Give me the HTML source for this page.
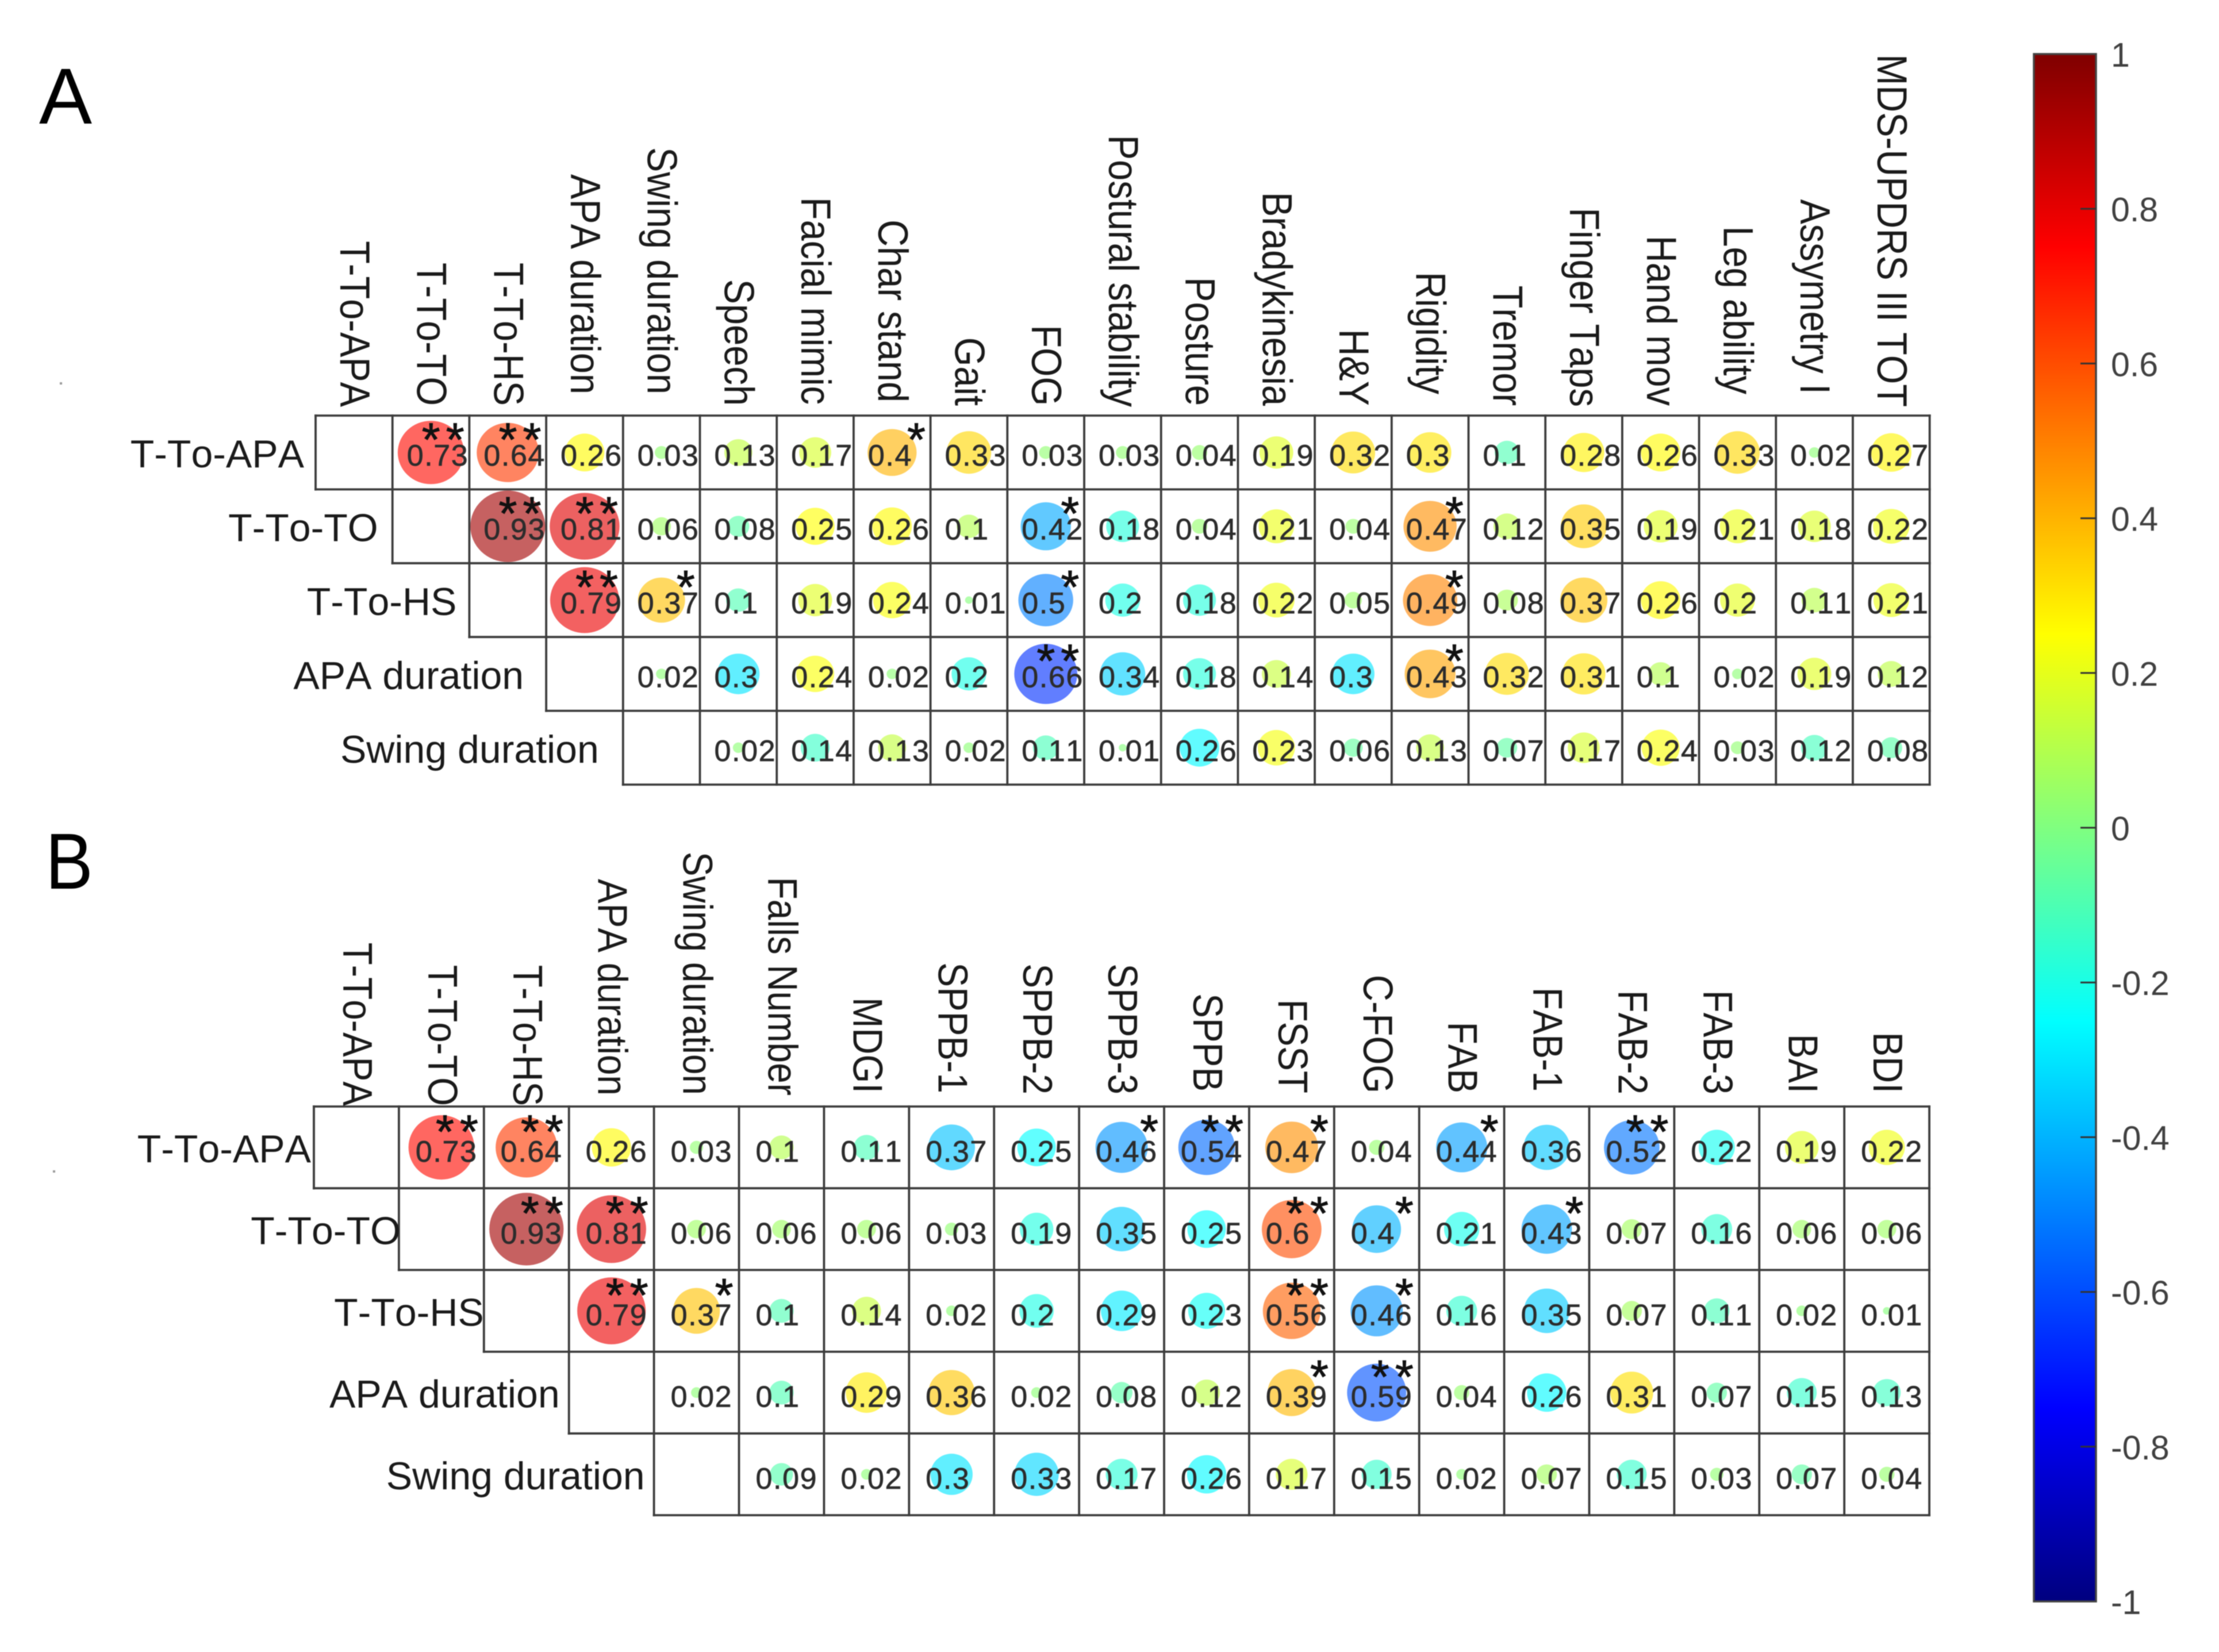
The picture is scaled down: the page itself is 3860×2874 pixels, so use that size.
<!DOCTYPE html>
<html lang="en">
<head>
<meta charset="utf-8">
<title>Correlation matrices</title>
<style>
html,body{margin:0;padding:0;background:#fff;}
svg{display:block;font-family:"Liberation Sans",Arial,sans-serif;font-kerning:none;filter:blur(0.9px);}
</style>
</head>
<body>
<svg id="chart" xmlns="http://www.w3.org/2000/svg" width="3860" height="2874" viewBox="0 0 3860 2874">
<defs>
<linearGradient id="jet-gradient" x1="0" y1="1" x2="0" y2="0">
<stop offset="0" stop-color="#00007f"/>
<stop offset="0.125" stop-color="#0000ff"/>
<stop offset="0.375" stop-color="#00ffff"/>
<stop offset="0.625" stop-color="#ffff00"/>
<stop offset="0.875" stop-color="#ff0000"/>
<stop offset="1" stop-color="#7f0000"/>
</linearGradient>
</defs>
<rect x="0" y="0" width="3860" height="2874" fill="#ffffff"/>
<text x="68" y="215" font-size="138" fill="#000">A</text>
<text transform="translate(79,1546) scale(0.9,1)" font-size="138" fill="#000">B</text>
<rect x="104" y="665" width="4" height="4" fill="#999"/>
<rect x="92" y="2036" width="4" height="4" fill="#999"/>
<g id="panels"></g>
<g id="colorbar"></g>
</svg>
<script>
// ---------- Panel A data ----------
const columnsA = ["T-To-APA","T-To-TO","T-To-HS","APA duration","Swing duration","Speech","Facial mimic","Char stand","Gait","FOG","Postural stability","Posture","Bradykinesia","H&Y","Rigidity","Tremor","Finger Taps","Hand mov","Leg ability","Assymetry I","MDS-UPDRS III TOT"];
const rowNames = ["T-To-APA","T-To-TO","T-To-HS","APA duration","Swing duration"];
const valuesA0 = [.73,.64,.26,.03,.13,.17,.4,.33,.03,.03,.04,.19,.32,.3,-.1,.28,.26,.33,.02,.27];
const valuesA1 = [.93,.81,.06,-.08,.25,.26,.1,-.42,-.18,.04,.21,.04,.47,.12,.35,.19,.21,.18,.22];
const valuesA2 = [.79,.37,-.1,.19,.24,.01,-.5,-.2,-.18,.22,.05,.49,.08,.37,.26,.2,.11,.21];
const valuesA3 = [.02,-.3,.24,.02,-.2,-.66,-.34,-.18,.14,-.3,.43,.32,.31,.1,.02,.19,.12];
const valuesA4 = [.02,-.14,.13,.02,-.11,.01,-.26,.23,-.06,.13,-.07,.17,.24,.03,-.12,-.08];
const starsA0 = [2,2,0,0,0,0,1,0,0,0,0,0,0,0,0,0,0,0,0,0];
const starsA1 = [2,2,0,0,0,0,0,1,0,0,0,0,1,0,0,0,0,0,0];
const starsA2 = [2,1,0,0,0,0,1,0,0,0,0,1,0,0,0,0,0,0];
const starsA3 = [0,0,0,0,0,2,0,0,0,0,1,0,0,0,0,0,0];
const starsA4 = [0,0,0,0,0,0,0,0,0,0,0,0,0,0,0,0];

// ---------- Panel B data ----------
const columnsB = ["T-To-APA","T-To-TO","T-To-HS","APA duration","Swing duration","Falls Number","MDGI","SPPB-1","SPPB-2","SPPB-3","SPPB","FSST","C-FOG","FAB","FAB-1","FAB-2","FAB-3","BAI","BDI"];
const valuesB0 = [.73,.64,.26,.03,.1,-.11,-.37,-.25,-.46,-.54,.47,.04,-.44,-.36,-.52,-.22,.19,.22];
const valuesB1 = [.93,.81,.06,.06,.06,.03,-.19,-.35,-.25,.6,-.4,-.21,-.43,.07,-.16,.06,.06];
const valuesB2 = [.79,.37,-.1,.14,.02,-.2,-.29,-.23,.56,-.46,-.16,-.35,.07,-.11,.02,.01];
const valuesB3 = [.02,-.1,.29,.36,.02,-.08,.12,.39,-.59,.04,-.26,.31,-.07,-.15,-.13];
const valuesB4 = [-.09,.02,-.3,-.33,-.17,-.26,.17,-.15,.02,.07,-.15,.03,-.07,.04];
const starsB0 = [2,2,0,0,0,0,0,0,1,2,1,0,1,0,2,0,0,0];
const starsB1 = [2,2,0,0,0,0,0,0,0,2,1,0,1,0,0,0,0];
const starsB2 = [2,1,0,0,0,0,0,0,2,1,0,0,0,0,0,0];
const starsB3 = [0,0,0,0,0,0,0,1,2,0,0,0,0,0,0];
const starsB4 = [0,0,0,0,0,0,0,0,0,0,0,0,0,0];

// ---------- Colorbar ticks ----------
const colorbarTicks = [1,0.8,0.6,0.4,0.2,0,-0.2,-0.4,-0.6,-0.8,-1];

const NS = "http://www.w3.org/2000/svg";
function make(tag, attrs, parent, text){
  const n = document.createElementNS(NS, tag);
  for (const k in attrs) n.setAttribute(k, attrs[k]);
  if (text !== undefined) n.textContent = text;
  parent.appendChild(n);
  return n;
}
function jet(v){
  const t = (v + 1) / 2;
  const ch = c => Math.round(255 * Math.max(0, Math.min(1, 1.5 - Math.abs(4 * t - c))));
  return "rgb(" + ch(3) + "," + ch(2) + "," + ch(1) + ")";
}
function slug(s){ return s.toLowerCase().replace(/[^a-z0-9]+/g, "-"); }

const root = document.getElementById("panels");

function drawPanel(p){
  const g = make("g", {}, root);
  
  
  const nC = p.columns.length, nR = p.rows.length;
  const xAt = c => p.x0 + p.colW * c;
  const yAt = r => p.y0 + p.rowH * r;

  // grid
  for (let k = 0; k <= nC; k++){
    const rEnd = Math.min(k + 1, nR);
    const line = make("line", {x1:xAt(k), x2:xAt(k), y1:yAt(0)-2, y2:yAt(rEnd)+2, stroke:"#3c3c3c", "stroke-width":3.8}, g);
    
    
  }
  for (let j = 0; j <= nR; j++){
    const cStart = j === 0 ? 0 : j - 1;
    const line = make("line", {x1:xAt(cStart)-2, x2:xAt(nC)+2, y1:yAt(j), y2:yAt(j), stroke:"#3c3c3c", "stroke-width":3.8}, g);
    
    
  }

  // column labels
  p.columns.forEach((name, c) => {
    const bx = xAt(c) + p.colW / 2 + p.colBase;
    const by = p.colEnd[c];
    const t = make("text", {transform:"translate(" + bx + "," + by + ") rotate(90) scale(1," + p.colStretch + ")", "text-anchor":"end", "font-size":p.colFont, fill:"#1a1a1a"}, g, name);
    
    
  });

  // row labels
  rowNames.forEach((name, r) => {
    const t = make("text", {x:xAt(r) - p.rowGap[r], y:yAt(r) + p.rowH / 2 + 26, "text-anchor":"end", "font-size":p.rowFont, fill:"#1a1a1a"}, g, name);
    
    
  });

  // cells
  p.rows.forEach((vals, r) => {
    vals.forEach((v, i) => {
      const c = r + 1 + i;
      const cx = xAt(c) + p.colW / 2, cy = yAt(r) + p.rowH / 2;
      const mag = Math.abs(v);
      const mark = make("ellipse", {cx:cx, cy:cy, rx:p.circW / 2 * Math.sqrt(mag), ry:p.circH / 2 * Math.sqrt(mag), fill:jet(v), "fill-opacity":0.62}, g);
      
      
    });
  });
  p.rows.forEach((vals, r) => {
    vals.forEach((v, i) => {
      const c = r + 1 + i;
      const cy = yAt(r) + p.rowH / 2;
      const label = make("text", {x:xAt(c) + p.textDx, y:cy + p.textDy, "font-size":p.valFont, "letter-spacing":p.valSpacing, fill:"#2c2c2c", stroke:"#2c2c2c", "stroke-width":0.7}, g, String(Math.abs(v)));
      
      
      const n = p.stars[r][i];
      for (let s = 0; s < n; s++){
        const sx = xAt(c) + (n === 2 ? p.starX[s] : p.starX[1]);
        const sy = yAt(r) + p.starY + 0.56 * p.starFont;
        const star = make("text", {x:sx, y:sy, "text-anchor":"middle", "font-size":p.starFont, fill:"#111", stroke:"#111", "stroke-width":1}, g, "*");
        
        
      }
    });
  });
}

const colEndsA = [708,706,706,686,686,706,704,700,706,706,708,706,706,706,686,706,708,706,686,686,708];
const colEndsB = [1924,1924,1924,1906,1905,1906,1902,1902,1904,1904,1899,1902,1902,1902,1899,1904,1904,1902,1902];

drawPanel({
  name:"panel-a-matrix", columns:columnsA,
  rows:[valuesA0,valuesA1,valuesA2,valuesA3,valuesA4],
  stars:[starsA0,starsA1,starsA2,starsA3,starsA4],
  x0:549, y0:723, colW:133.7, rowH:128.4,
  colBase:-24, colEnd:colEndsA, colFont:65, colStretch:1.13,
  rowGap:[20,25,22,39,42], rowFont:68,
  circW:135, circH:129, valFont:52, valSpacing:1.6, textDx:25, textDy:23,
  starX:[67,109], starY:24, starFont:82
});
drawPanel({
  name:"panel-b-matrix", columns:columnsB,
  rows:[valuesB0,valuesB1,valuesB2,valuesB3,valuesB4],
  stars:[starsB0,starsB1,starsB2,starsB3,starsB4],
  x0:546, y0:1925, colW:147.9, rowH:142.2,
  colBase:-23, colEnd:colEndsB, colFont:64, colStretch:1.13,
  rowGap:[5,-3,0,16,16], rowFont:68,
  circW:134, circH:131, valFont:52, valSpacing:1.6, textDx:29, textDy:25,
  starX:[80,122], starY:26, starFont:82
});

// ---------- Colorbar ----------
const cbar = document.getElementById("colorbar");
const cbTop = 94, cbBottom = 2786, cbLeft = 3538, cbRight = 3646;
const cbY = v => cbTop + (1 - v) / 2 * (cbBottom - cbTop);
const cbRect = make("rect", {x:cbLeft, y:cbTop, width:cbRight-cbLeft, height:cbBottom-cbTop, fill:"url(#jet-gradient)", stroke:"#444", "stroke-width":3.5}, cbar);


colorbarTicks.forEach(v => {
  if (Math.abs(v) < 1){
    const tick = make("line", {x1:cbRight-27, x2:cbRight, y1:cbY(v), y2:cbY(v), stroke:"#333", "stroke-width":3}, cbar);
    
    
  }
  const lab = make("text", {x:3672, y:cbY(v) + 22, "font-size":59, fill:"#404040"}, cbar, String(v));
  
  
});
</script>
</body>
</html>
